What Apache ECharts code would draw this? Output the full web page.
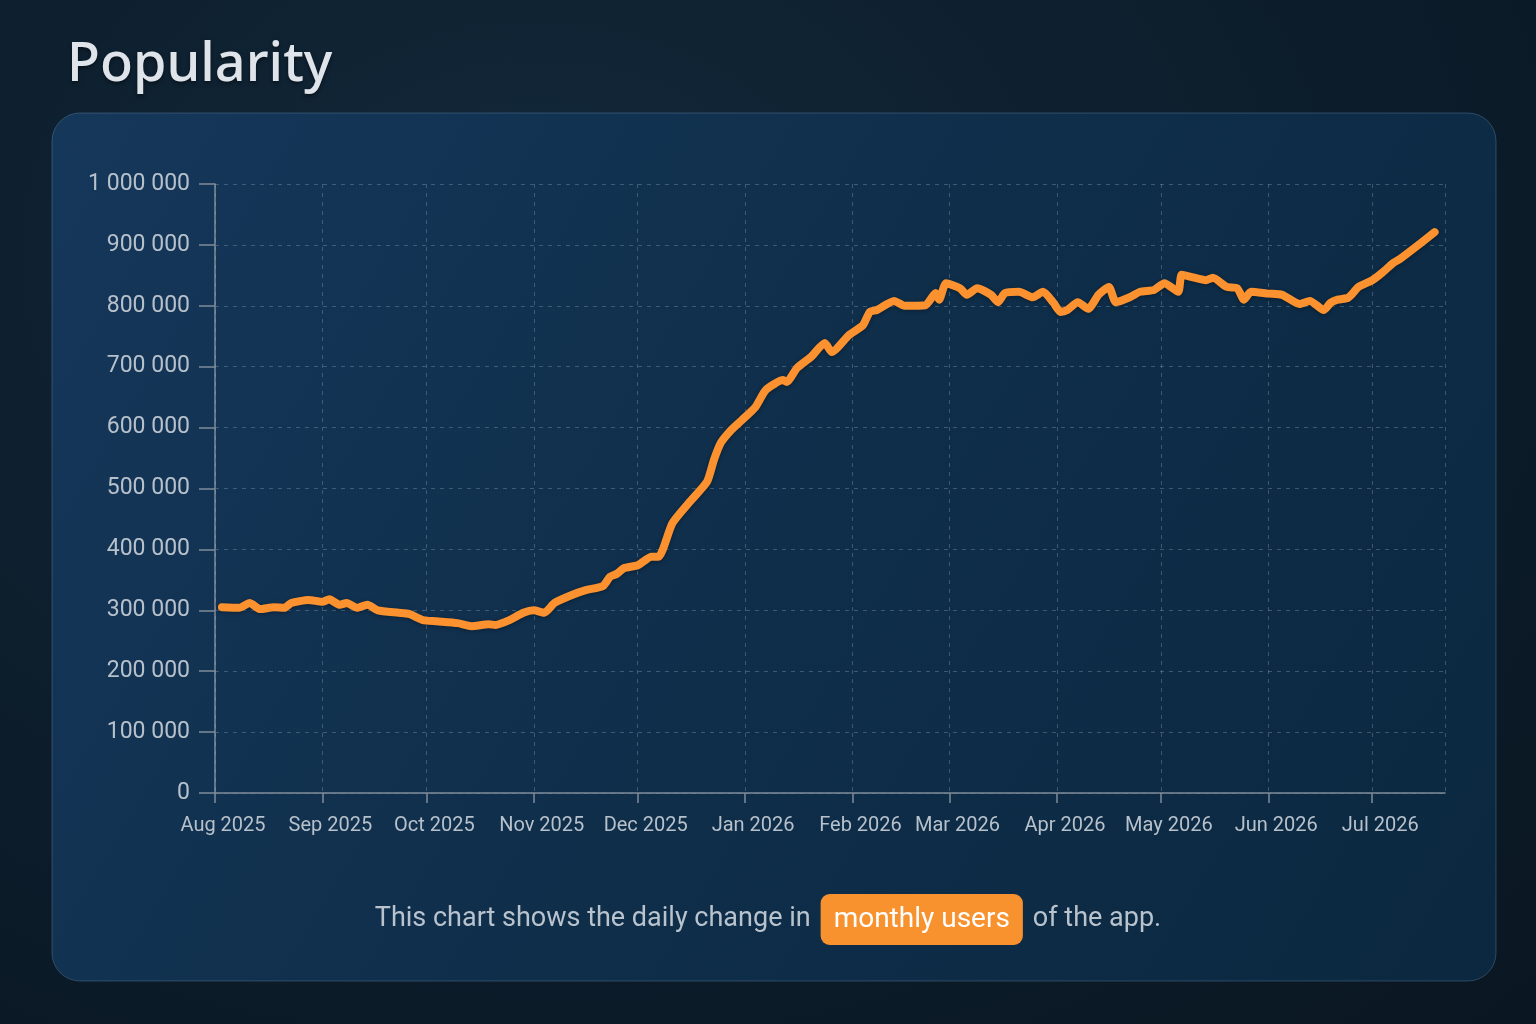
<!DOCTYPE html>
<html lang="en">
<head>
<meta charset="UTF-8" />
<title>Popularity</title>
<style>
  * { box-sizing: border-box; margin: 0; padding: 0; }
  html, body {
    width: 1536px;
    height: 1024px;
    background: radial-gradient(ellipse at 35% 25%, #12283a 0%, #0c1c2a 60%, #0a1722 100%);
    overflow: hidden;
  }
  #chart { width: 1536px; height: 1024px; }
</style>
</head>
<body>
<div id="chart"></div>
<script src="https://cdn.jsdelivr.net/npm/echarts@6/dist/echarts.min.js"></script>
<script>
  // monthly users
  const dates = [
    '2025-08-03', '2025-08-08', '2025-08-11', '2025-08-14', '2025-08-18', '2025-08-21', '2025-08-23', '2025-08-28',
    '2025-09-01', '2025-09-03', '2025-09-06', '2025-09-08', '2025-09-11', '2025-09-14', '2025-09-17', '2025-09-23',
    '2025-09-26', '2025-09-30', '2025-10-04', '2025-10-10', '2025-10-14', '2025-10-19', '2025-10-21', '2025-10-25',
    '2025-10-29', '2025-11-01', '2025-11-04', '2025-11-07', '2025-11-12', '2025-11-16', '2025-11-21', '2025-11-23',
    '2025-11-25', '2025-11-27', '2025-12-01', '2025-12-05', '2025-12-07', '2025-12-11', '2025-12-16', '2025-12-21',
    '2025-12-23', '2025-12-25', '2025-12-28', '2025-12-31', '2026-01-04', '2026-01-07', '2026-01-12', '2026-01-13',
    '2026-01-16', '2026-01-20', '2026-01-24', '2026-01-26', '2026-01-31', '2026-02-04', '2026-02-06', '2026-02-08',
    '2026-02-13', '2026-02-16', '2026-02-22', '2026-02-25', '2026-02-26', '2026-02-28', '2026-03-04', '2026-03-06',
    '2026-03-09', '2026-03-13', '2026-03-15', '2026-03-17', '2026-03-21', '2026-03-25', '2026-03-28', '2026-03-31',
    '2026-04-02', '2026-04-04', '2026-04-07', '2026-04-10', '2026-04-13', '2026-04-16', '2026-04-18', '2026-04-22',
    '2026-04-25', '2026-04-29', '2026-05-02', '2026-05-06', '2026-05-07', '2026-05-10', '2026-05-14', '2026-05-16',
    '2026-05-20', '2026-05-23', '2026-05-25', '2026-05-27', '2026-06-01', '2026-06-05', '2026-06-10', '2026-06-13',
    '2026-06-17', '2026-06-19', '2026-06-21', '2026-06-24', '2026-06-25', '2026-06-27', '2026-07-01', '2026-07-04',
    '2026-07-07', '2026-07-09', '2026-07-15', '2026-07-19'
  ]
  const users = [
    305000, 304000, 312000, 302000, 305000, 304000, 312000, 317000,
    314000, 318000, 309000, 312000, 304000, 309000, 300000, 296000,
    294000, 284000, 282000, 279000, 274000, 277000, 276000, 284000,
    296000, 300000, 296000, 312000, 325000, 333000, 340000, 355000,
    360000, 369000, 374000, 388000, 388000, 443000, 478000, 511000,
    547000, 575000, 596000, 612000, 634000, 662000, 678000, 675000,
    698000, 716000, 739000, 724000, 752000, 768000, 790000, 793000,
    808000, 800000, 801000, 821000, 810000, 837000, 829000, 818000,
    829000, 818000, 806000, 821000, 823000, 814000, 823000, 805000,
    790000, 793000, 806000, 795000, 818000, 831000, 806000, 814000,
    823000, 826000, 837000, 823000, 851000, 847000, 842000, 846000,
    831000, 829000, 810000, 823000, 820000, 818000, 803000, 808000,
    793000, 805000, 810000, 813000, 818000, 831000, 842000, 855000,
    870000, 877000, 903000, 921000
  ]
  const yTicks = [0, 100000, 200000, 300000, 400000, 500000, 600000, 700000, 800000, 900000, 1000000]
  const axisStart = '2025-08-01'
  const axisEnd = '2026-07-22'

  const gridColor = 'rgba(170,190,210,0.3)'
  const axisColor = '#7f8c99'
  const labelColor = '#b7c1cb'

  const chart = echarts.init(document.getElementById('chart'), null, { renderer: 'canvas' })

  chart.setOption({
    backgroundColor: 'transparent',
    animation: false,
    graphic: [{
      type: 'rect',
      z: -10,
      shape: { x: 52, y: 113, width: 1444, height: 868, r: 28 },
      style: {
        fill: new echarts.graphic.LinearGradient(0, 0, 1, 1, [
          { offset: 0, color: '#15375a' },
          { offset: 0.5, color: '#0f2e4a' },
          { offset: 1, color: '#0b2840' }
        ]),
        stroke: 'rgba(110,150,190,0.35)',
        lineWidth: 1
      }
    }],
    title: [{
      text: 'Popularity',
      left: 62,
      top: 34,
      textStyle: {
        fontFamily: 'Noto Sans',
        fontSize: 54,
        fontWeight: 500,
        color: '#dfe4ea',
        textShadowColor: 'rgba(0,0,0,0.5)',
        textShadowBlur: 4,
        textShadowOffsetY: 2
      }
    }, {
      text: '{a|This chart shows the daily change in}  {b|monthly users}  {a|of the app.}',
      left: 'center',
      top: 889,
      textStyle: {
        fontWeight: 'normal',
        rich: {
          a: { fontFamily: 'Roboto', fontSize: 27, fontWeight: 'normal', color: '#b9c3cd' },
          b: {
            fontFamily: 'Roboto',
            fontSize: 28,
            fontWeight: 'normal',
            color: '#ffffff',
            backgroundColor: '#f7922e',
            borderRadius: 9,
            padding: [12, 13, 11, 13]
          }
        }
      }
    }],
    grid: { left: 215, right: 91, top: 184, bottom: 231, containLabel: false },
    xAxis: {
      type: 'time',
      min: axisStart,
      max: axisEnd,
      minInterval: 28 * 86400000,
      maxInterval: 31 * 86400000,
      axisLine: { lineStyle: { color: axisColor, width: 1.5 } },
      axisTick: { show: true, length: 10, lineStyle: { color: axisColor, width: 1.5 } },
      axisLabel: {
        formatter: '{MMM} {yyyy}',
        showMaxLabel: false,
        margin: 23,
        padding: [0, 0, 0, 16],
        fontFamily: 'Roboto',
        fontSize: 20,
        color: labelColor
      },
      splitLine: { show: true, lineStyle: { color: gridColor, type: [4, 5], width: 1 } }
    },
    yAxis: {
      type: 'value',
      min: yTicks[0],
      max: yTicks[yTicks.length - 1],
      interval: yTicks[1] - yTicks[0],
      axisLine: { show: true, lineStyle: { color: axisColor, width: 1.5 } },
      axisTick: { show: true, length: 16, lineStyle: { color: axisColor, width: 1.5 } },
      axisLabel: {
        margin: 25,
        fontFamily: 'Roboto',
        fontSize: 23,
        color: labelColor,
        formatter: v => String(v).replace(/\B(?=(\d{3})+(?!\d))/g, ' ')
      },
      splitLine: { show: true, lineStyle: { color: gridColor, type: [4, 5], width: 1 } }
    },
    series: [{
      type: 'line',
      data: dates.map((d, i) => [d, users[i]]),
      showSymbol: false,
      smooth: 0.2,
      lineStyle: {
        color: '#fb922f',
        width: 8,
        cap: 'round',
        join: 'round',
        shadowColor: 'rgba(0,0,0,0.35)',
        shadowBlur: 4,
        shadowOffsetY: 1
      }
    }]
  })
</script>
</body>
</html>
